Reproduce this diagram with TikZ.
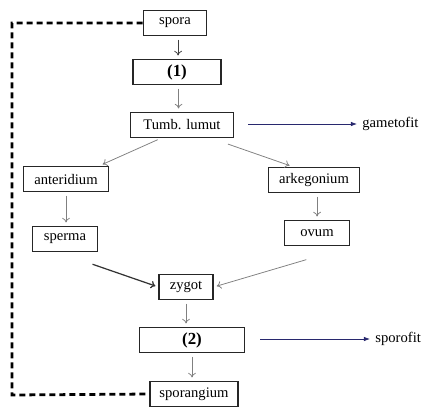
\documentclass[tikz,border=0pt]{standalone}
\usepackage{fontspec}
\setmainfont{Liberation Serif}
\usepackage{tikz}
\usetikzlibrary{arrows.meta}
\tikzset{
    box/.style = {draw=black!85, line width=1pt, minimum height=16.5pt, inner sep=2pt, font=\fontsize{9.5}{11}\selectfont},
    flow/.style = {draw=gray, line width=0.5pt, shorten >=2pt, shorten <=2pt, -{To[length=3pt,width=5pt]}},
    navy/.style = {draw={rgb,255:red,40;green,40;blue,110}, line width=0.5pt, -{Latex[length=4pt,width=3pt]}},
    cycle/.style = {line width=1.8pt, dash pattern=on 4pt off 2.5pt}
}

\begin{document}
\begin{tikzpicture}[x=0.65pt, y=-0.65pt]
  \useasboundingbox (0,0) rectangle (427,407);
  % stadia
  \node [box, minimum width=41pt] (spora) at (175, 23) {spora};
  \node [box, minimum width=57pt, font=\fontsize{11}{13}\selectfont\bfseries] (satu) at (177, 72) {(1)};
  \node [box, minimum width=67pt] (tumb) at (182, 125) {Tumb. lumut};
  \node [box, minimum width=55pt] (anter) at (66, 179) {anteridium};
  \node [box, minimum width=42pt] (sperma) at (65, 239) {sperma};
  \node [box, minimum width=59pt] (arkeg) at (314, 180) {arkegonium};
  \node [box, minimum width=42pt] (ovum) at (317, 233) {ovum};
  \node [box, minimum width=35pt] (zygot) at (186, 287) {zygot};
  \node [box, minimum width=68pt, font=\fontsize{11}{13}\selectfont\bfseries] (dua) at (192, 340) {(2)};
  \node [box, minimum width=57pt] (sporang) at (194, 394) {sporangium};
  % keterangan
  \node [font=\fontsize{9.5}{11}\selectfont, anchor=west] (gamet) at (357, 124) {gametofit};
  \node [font=\fontsize{9.5}{11}\selectfont, anchor=west] (sporof) at (370, 339) {sporofit};
  \coordinate (g0) at (248, 124);
  \coordinate (s0) at (260, 339);
  \coordinate (c1) at (12, 23);
  \coordinate (c2) at (12, 395);

  % panah
  \draw [flow, draw=black!75] ([xshift=2]spora.south) -- ([xshift=2]spora.south |- satu.north);
  \draw [flow] ([xshift=1]satu.south) -- ([xshift=1]satu.south |- tumb.north);
  \draw [flow] ([xshift=20]tumb.south west) -- ([xshift=-6]anter.north east);
  \draw [flow] ([xshift=-6,yshift=-3]tumb.south east) -- ([xshift=-14]arkeg.north);
  \draw [flow] (anter.south) -- (anter.south |- sperma.north);
  \draw [flow] ([xshift=2]arkeg.south) -- ([xshift=2]arkeg.south |- ovum.north);
  \draw [flow, draw=black!80, line width=0.8pt] ([xshift=16,yshift=-7]sperma.south) -- (zygot.west);
  \draw [flow] ([xshift=-5,yshift=-8]ovum.south) -- (zygot.east);
  \draw [flow] (zygot.south) -- (zygot.south |- dua.north);
  \draw [flow] (dua.south) -- (dua.south |- sporang.north);
  \draw [navy] (g0) -- (gamet);
  \draw [navy] (s0) -- (sporof);
  % siklus
  \draw [cycle] (spora.west) -- (c1) -- (c2) -- (sporang.west);
\end{tikzpicture}
\end{document}
